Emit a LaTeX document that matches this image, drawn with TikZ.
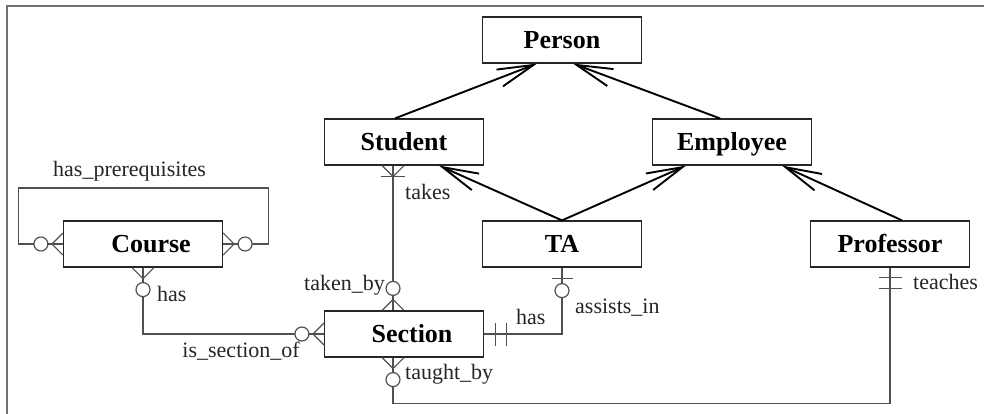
\documentclass[tikz,border=0pt]{standalone}
\usepackage{fontspec}
\setmainfont{Liberation Serif}
\usetikzlibrary{calc,arrows.meta}
\definecolor{framegray}{HTML}{707070}
\definecolor{conngray}{HTML}{505050}
\tikzset{
  entity/.style={draw=black!85, line width=1.2pt, minimum width=159pt, minimum height=46pt,
    inner sep=0pt, text height=17.2pt, text depth=0pt,
    font=\fontsize{26}{30}\selectfont\bfseries},
  lbl/.style={inner sep=0pt, text=black!85, font=\fontsize{22}{26}\selectfont},
  conn/.style={draw=conngray, line width=1.2pt},
  isa/.style={draw=black, line width=1.9pt, -{Straight Barb[length=36pt,width=18pt,line width=1.9pt]}},
  frameline/.style={draw=framegray, line width=2.5pt},
  zmany/.pic={\draw[conn] (0,-11) -- (11,0) -- (0,11);
              \draw[conn,fill=white] (22,0) circle[radius=7pt];},
  omany/.pic={\draw[conn] (0,-11) -- (11,0) -- (0,11);
              \draw[conn] (11,-12) -- (11,12);},
  oone/.pic={\draw[conn] (11,-11.5) -- (11,11.5);
             \draw[conn] (22,-11.5) -- (22,11.5);},
  zone/.pic={\draw[conn] (11,-10.5) -- (11,10.5);
             \draw[conn,fill=white] (23,0) circle[radius=7pt];}
}
\begin{document}
\begin{tikzpicture}[x=1pt,y=-1pt]
\useasboundingbox (0,0) rectangle (984,414);
\fill[white] (0,0) rectangle (984,414);
\draw[frameline] (984,6) -- (7,6) -- (7,414);

% entities
\node[entity] (person)    at (562,40)  {Person\hspace{10pt}};
\node[entity] (student)   at (404,142) {Student};
\node[entity] (employee)  at (732,142) {Employee\hspace{6pt}};
\node[entity] (course)    at (143,244) {\hspace{16pt}Course};
\node[entity] (ta)        at (562,244) {TA\hspace{26pt}};
\node[entity] (professor) at (890,244) {Professor};
\node[entity] (section)   at (404,334) {\hspace{16pt}Section};

% generalisation arrows
\draw[isa] ($(student.north)+(-9,0)$) -- ($(person.south)+(-25,0)$);
\draw[isa] ($(employee.north)+(-12,0)$) -- ($(person.south)+(11,0)$);
\draw[isa] (ta.north) -- ($(student.south)+(35,0)$);
\draw[isa] (ta.north) -- ($(employee.south)+(-46,0)$);
\draw[isa] ($(professor.north)+(12,0)$) -- ($(employee.south)+(50,0)$);

% relationships
\draw[conn] (course.west) -- ++(-44.5,0) -- ++(0,-56) -| ($(course.east)+(45,0)$) -- (course.east);
\draw[conn] (course.south) |- (section.west);
\draw[conn] ($(student.south)+(-11,0)$) -- ($(section.north)+(-11,0)$);
\draw[conn] (section.east) -| (ta.south);
\draw[conn] ($(section.south)+(-11,0)$) -- ++(0,46) -| (professor.south);

% cardinality marks
\pic[rotate=180] at (course.west) {zmany};
\pic at (course.east) {zmany};
\pic[rotate=-90] at (course.south) {zmany};
\pic[rotate=180] at (section.west) {zmany};
\pic[rotate=-90] at ($(student.south)+(-11,0)$) {omany};
\pic[rotate=90] at ($(section.north)+(-11,0)$) {zmany};
\pic[rotate=-90] at ($(section.south)+(-11,0)$) {zmany};
\pic at (section.east) {oone};
\pic[rotate=-90] at (ta.south) {zone};
\pic[rotate=-90] at ($(professor.south)+(0,-1)$) {oone};

% labels
\node[lbl, anchor=base west] (lprereq) at (53,177) {has\_prerequisites};
\node[lbl, anchor=base west] (lhas1) at (157,301) {has};
\node[lbl, anchor=base east] (lsecof) at (300,357) {is\_section\_of};
\node[lbl, anchor=base west] (ltakes) at (405,199) {takes};
\node[lbl, anchor=base east] (ltakenby) at (385,290) {taken\_by};
\node[lbl, anchor=base west] (lhas2) at (516,324) {has};
\node[lbl, anchor=base west] (lassists) at (575,313) {assists\_in};
\node[lbl, anchor=base west] (ltaught) at (405,379) {taught\_by};
\node[lbl, anchor=base west] (lteaches) at (913,289) {teaches};
\end{tikzpicture}
\end{document}
